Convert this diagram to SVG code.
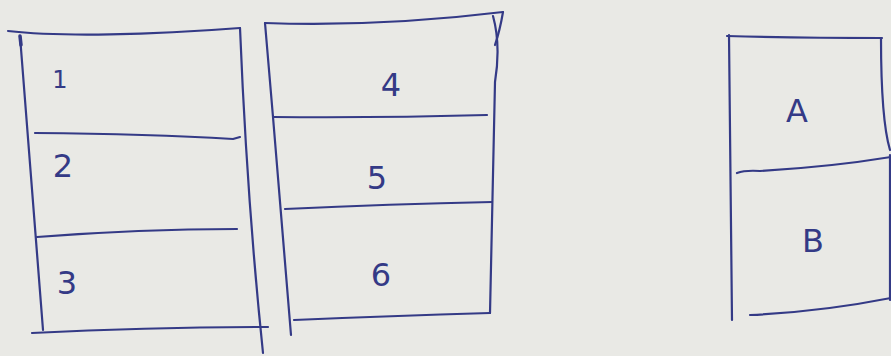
<svg xmlns="http://www.w3.org/2000/svg" width="891" height="356" viewBox="0 0 891 356">
<style>
.pen{fill:none;stroke:#343a86;stroke-width:2.2;stroke-linecap:round;stroke-linejoin:round}
.lbl{font-family:"DejaVu Sans","Liberation Sans",sans-serif;font-size:32px;fill:#343a86;text-anchor:middle}
</style>
<rect x="0" y="0" width="891" height="356" fill="#e9e9e5"/>
<g id="stack-left">
<path class="pen" d="M8,31 C60,37 150,35 240,28"/>
<path class="pen" d="M20,36 L43,330"/>
<path class="pen" d="M20,36 L21,45" style="stroke-width:3.5"/>
<path class="pen" d="M240,28 Q247,200 263,353"/>
<path class="pen" d="M35,133 Q150,134 233,139 L240,137"/>
<path class="pen" d="M37,237 Q140,229 237,229"/>
<path class="pen" d="M32,333 Q150,327 268,327"/>
<text class="lbl" x="60" y="88" style="font-size:24px">1</text>
<text class="lbl" x="63" y="177">2</text>
<text class="lbl" x="67" y="294">3</text>
</g>
<g id="stack-middle">
<path class="pen" d="M265,23 Q380,27 503,12"/>
<path class="pen" d="M265,23 Q268,60 273,117 Q282,230 291,335"/>
<path class="pen" d="M493,16 Q501,45 495,82 L490,313"/>
<path class="pen" d="M503,12 Q500,30 495,45"/>
<path class="pen" d="M273,117 Q380,118 487,115"/>
<path class="pen" d="M285,209 Q390,204 492,202"/>
<path class="pen" d="M294,320 Q390,316 490,313"/>
<text class="lbl" x="391" y="96">4</text>
<text class="lbl" x="377" y="189">5</text>
<text class="lbl" x="381" y="286">6</text>
</g>
<g id="stack-right">
<path class="pen" d="M727,36 Q800,38 882,38"/>
<path class="pen" d="M729,35 L732,320"/>
<path class="pen" d="M881,38 Q881,120 890,150"/>
<path class="pen" d="M737,173 Q745,170 760,171 Q830,167 891,157"/>
<path class="pen" d="M890,155 L890,300"/>
<path class="pen" d="M750,315 Q820,312 891,298"/>
<text class="lbl" x="797" y="122">A</text>
<text class="lbl" x="813" y="252">B</text>
</g>
<g id="connectors"/>
</svg>
